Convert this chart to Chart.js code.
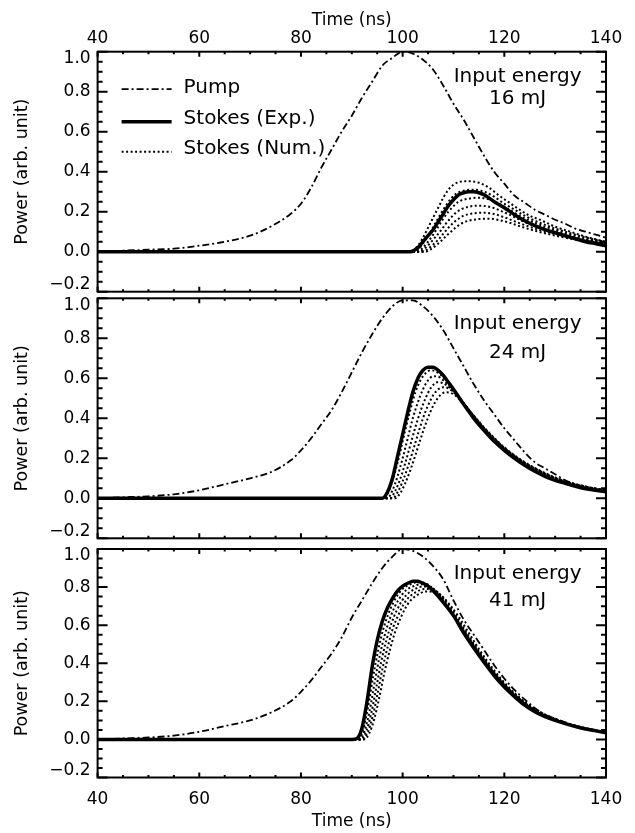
<!DOCTYPE html>
<html>
<head>
<meta charset="utf-8">
<title>Pump and Stokes pulses</title>
<script src="https://cdn.jsdelivr.net/npm/chart.js@4.4.1/dist/chart.umd.min.js"></script>
<style>
  html, body { margin: 0; padding: 0; background: #fff; }
  #wrap { position: relative; width: 635px; height: 833px; }
  #wrap canvas { position: absolute; left: 0; }
</style>
</head>
<body>
<div id="wrap">
  <canvas id="p16" width="635" height="296" style="top:0px"></canvas>
  <canvas id="p24" width="635" height="246" style="top:296px"></canvas>
  <canvas id="p41" width="635" height="291" style="top:542px"></canvas>
</div>
<script>
// axis ticks
const xTicks = [40, 60, 80, 100, 120, 140];
const yTicks = [-0.2, 0, 0.2, 0.4, 0.6, 0.8, 1.0];
const legendLabels = ['Pump', 'Stokes (Exp.)', 'Stokes (Num.)'];

// pump pulses, one time grid for all three
const pumpTime = [40, 45, 50, 55, 60, 65, 70, 74, 78, 80, 82, 84, 86, 88, 90, 92, 94, 96, 98, 100,
  102, 104, 106, 108, 110, 112, 114, 116, 118, 120, 122, 124, 126, 128, 130, 132, 134, 136, 138, 140];
const pump16 = [0.0, 0.005, 0.01, 0.015, 0.03, 0.05, 0.08, 0.125, 0.19, 0.24, 0.32, 0.42, 0.51, 0.60, 0.68, 0.77, 0.85, 0.93, 0.97, 1.0,
  0.99, 0.96, 0.91, 0.83, 0.74, 0.66, 0.57, 0.48, 0.40, 0.34, 0.28, 0.245, 0.21, 0.185, 0.16, 0.14, 0.115, 0.10, 0.085, 0.07];
const pump24 = [0.0, 0.005, 0.01, 0.02, 0.04, 0.07, 0.10, 0.13, 0.19, 0.24, 0.30, 0.37, 0.44, 0.53, 0.63, 0.73, 0.82, 0.90, 0.96, 0.99,
  0.99, 0.96, 0.91, 0.84, 0.75, 0.66, 0.57, 0.49, 0.42, 0.35, 0.29, 0.23, 0.18, 0.15, 0.12, 0.09, 0.07, 0.05, 0.04, 0.03];
const pump41 = [0.0, 0.005, 0.01, 0.02, 0.04, 0.07, 0.10, 0.14, 0.20, 0.25, 0.31, 0.38, 0.45, 0.535, 0.64, 0.73, 0.82, 0.90, 0.96, 1.0,
  0.99, 0.96, 0.91, 0.84, 0.73, 0.63, 0.55, 0.47, 0.39, 0.32, 0.26, 0.21, 0.165, 0.13, 0.11, 0.09, 0.07, 0.055, 0.045, 0.035];

// measured Stokes, [time, power]
const exp16 = [[40,0],[101.5,0],[103,0.02],[104,0.05],[105,0.08],[106,0.11],[107,0.15],[108,0.19],[109,0.23],[110,0.26],
  [111,0.285],[112,0.295],[113,0.30],[114,0.30],[115,0.295],[116,0.285],[118,0.25],[120,0.22],[122,0.185],[124,0.155],
  [126,0.13],[128,0.11],[130,0.095],[132,0.08],[134,0.065],[136,0.05],[138,0.04],[140,0.03]];
const exp24 = [[40,0],[96,0],[97,0.03],[98,0.1],[99,0.21],[100,0.32],[101,0.43],[102,0.53],[103,0.6],[104,0.64],[105,0.655],
  [106,0.655],[107,0.64],[108,0.615],[109,0.58],[110,0.545],[112,0.47],[114,0.4],[116,0.34],[118,0.285],[120,0.24],[122,0.2],
  [124,0.165],[126,0.135],[128,0.11],[130,0.09],[132,0.075],[134,0.06],[136,0.048],[138,0.04],[140,0.033]];
const exp41 = [[40,0],[90,0],[91,0.005],[92,0.06],[93,0.2],[94,0.38],[95,0.52],[96,0.62],[97,0.69],[98,0.74],[99,0.78],
  [100,0.805],[101,0.82],[102,0.83],[103,0.83],[104,0.82],[105,0.805],[106,0.78],[108,0.72],[110,0.65],[112,0.56],[114,0.48],
  [116,0.405],[118,0.335],[120,0.275],[122,0.225],[124,0.18],[126,0.145],[128,0.12],[130,0.1],[132,0.083],[134,0.068],
  [136,0.055],[138,0.045],[140,0.035]];

// simulated Stokes, 16 mJ
const num16a = [[40,0],[101.5,0],[103,0.03],[104,0.07],[105,0.12],[106,0.17],[107,0.22],[108,0.27],[109,0.31],[110,0.335],
  [111,0.348],[113,0.352],[115,0.345],[117,0.32],[119,0.28],[121,0.245],[123,0.21],[125,0.18],[127,0.16],[130,0.125],
  [133,0.1],[136,0.075],[140,0.05]];
const num16b = [[40,0],[102.2,0],[103.5,0.025],[104.5,0.06],[105.5,0.1],[106.5,0.145],[107.5,0.19],[108.5,0.23],[109.5,0.265],
  [110.5,0.29],[112,0.305],[114,0.31],[116,0.3],[118,0.275],[120,0.24],[122,0.21],[124,0.18],[126,0.155],[129,0.125],
  [132,0.1],[136,0.072],[140,0.048]];
const num16c = [[40,0],[102.8,0],[104,0.02],[105,0.05],[106,0.085],[107,0.125],[108,0.165],[109,0.2],[110,0.228],[111,0.25],
  [113,0.265],[115,0.27],[117,0.262],[119,0.24],[121,0.21],[123,0.18],[125,0.155],[128,0.125],[131,0.1],[135,0.072],[140,0.045]];
const num16d = [[40,0],[103.4,0],[104.5,0.02],[105.5,0.045],[106.5,0.075],[107.5,0.105],[108.5,0.14],[109.5,0.17],[110.5,0.195],
  [111.5,0.212],[113,0.225],[115,0.23],[117,0.225],[119,0.208],[121,0.185],[123,0.16],[125,0.138],[128,0.112],[131,0.09],
  [135,0.065],[140,0.042]];
const num16e = [[40,0],[104,0],[105,0.015],[106,0.035],[107,0.06],[108,0.09],[109,0.12],[110,0.145],[111,0.165],[112,0.18],
  [114,0.192],[116,0.195],[118,0.188],[120,0.172],[122,0.152],[124,0.133],[127,0.108],[130,0.088],[134,0.065],[140,0.04]];
const num16f = [[40,0],[104.5,0],[105.5,0.012],[106.5,0.03],[107.5,0.052],[108.5,0.077],[109.5,0.1],[110.5,0.122],[111.5,0.14],
  [113,0.155],[115,0.163],[117,0.165],[119,0.158],[121,0.145],[123,0.128],[125,0.112],[128,0.092],[131,0.075],[135,0.056],[140,0.038]];

// simulated Stokes, 24 mJ
const num24a = [[40,0],[96.5,0],[97.5,0.05],[98.5,0.13],[99.5,0.23],[100.5,0.34],[101.5,0.44],[102.5,0.53],[103.5,0.59],
  [104.5,0.625],[105.5,0.64],[106.5,0.635],[108,0.605],[110,0.545],[112,0.475],[114,0.405],[116,0.345],[118,0.29],[120,0.245],
  [123,0.19],[126,0.145],[130,0.1],[134,0.068],[140,0.038]];
const num24b = [[40,0],[97,0],[98,0.04],[99,0.11],[100,0.2],[101,0.3],[102,0.4],[103,0.48],[104,0.545],[105,0.59],[106,0.61],
  [107,0.608],[108,0.59],[110,0.54],[112,0.475],[114,0.41],[116,0.35],[118,0.295],[120,0.248],[123,0.19],[126,0.145],
  [130,0.1],[134,0.068],[140,0.038]];
const num24c = [[40,0],[97.5,0],[98.5,0.035],[99.5,0.095],[100.5,0.175],[101.5,0.265],[102.5,0.355],[103.5,0.435],[104.5,0.5],
  [105.5,0.55],[106.8,0.58],[108,0.575],[110,0.535],[112,0.475],[114,0.41],[116,0.35],[118,0.297],[120,0.25],[123,0.192],
  [126,0.147],[130,0.1],[134,0.068],[140,0.038]];
const num24d = [[40,0],[98,0],[99,0.03],[100,0.085],[101,0.155],[102,0.235],[103,0.32],[104,0.4],[105,0.465],[106,0.515],
  [107,0.545],[108,0.555],[109,0.55],[110,0.53],[112,0.475],[114,0.412],[116,0.353],[118,0.3],[120,0.253],[123,0.195],
  [126,0.15],[130,0.102],[134,0.07],[140,0.038]];
const num24e = [[40,0],[98.5,0],[99.5,0.025],[100.5,0.075],[101.5,0.14],[102.5,0.215],[103.5,0.295],[104.5,0.37],[105.5,0.435],
  [106.5,0.485],[107.5,0.518],[108.5,0.53],[110,0.52],[112,0.473],[114,0.413],[116,0.355],[118,0.302],[120,0.255],[123,0.197],
  [126,0.152],[130,0.104],[134,0.071],[140,0.039]];

// simulated Stokes, 41 mJ
const num41a = [[40,0],[91.2,0],[92.2,0.05],[93.2,0.17],[94.2,0.33],[95.2,0.47],[96.2,0.58],[97.2,0.66],[98.2,0.72],[99.2,0.765],
  [100.2,0.795],[101.5,0.815],[103,0.826],[104.5,0.82],[106,0.79],[108,0.725],[110,0.65],[112,0.57],[114,0.49],[116,0.415],
  [118,0.345],[120,0.285],[123,0.21],[126,0.152],[130,0.1],[134,0.068],[140,0.036]];
const num41b = [[40,0],[91.5,0],[92.5,0.045],[93.5,0.15],[94.5,0.3],[95.5,0.44],[96.5,0.55],[97.5,0.635],[98.5,0.7],[99.5,0.745],
  [100.5,0.78],[102,0.803],[103.5,0.815],[105,0.808],[106.5,0.78],[108,0.728],[110,0.653],[112,0.573],[114,0.493],[116,0.418],
  [118,0.348],[120,0.288],[123,0.212],[126,0.154],[130,0.102],[134,0.069],[140,0.036]];
const num41c = [[40,0],[91.8,0],[92.8,0.04],[93.8,0.135],[94.8,0.27],[95.8,0.41],[96.8,0.52],[97.8,0.61],[98.8,0.675],[99.8,0.725],
  [100.8,0.76],[102.2,0.787],[104,0.803],[105.5,0.798],[107,0.77],[108.5,0.72],[110,0.66],[112,0.578],[114,0.497],[116,0.421],
  [118,0.351],[120,0.29],[123,0.214],[126,0.156],[130,0.103],[134,0.07],[140,0.036]];
const num41d = [[40,0],[92.1,0],[93.1,0.035],[94.1,0.12],[95.1,0.245],[96.1,0.38],[97.1,0.49],[98.1,0.585],[99.1,0.65],[100.1,0.705],
  [101.1,0.743],[102.6,0.773],[104.3,0.79],[106,0.785],[107.5,0.758],[109,0.71],[110.5,0.652],[112,0.585],[114,0.502],[116,0.425],
  [118,0.354],[120,0.293],[123,0.216],[126,0.158],[130,0.104],[134,0.07],[140,0.036]];
const num41e = [[40,0],[92.4,0],[93.4,0.03],[94.4,0.105],[95.4,0.22],[96.4,0.35],[97.4,0.46],[98.4,0.555],[99.4,0.625],[100.4,0.683],
  [101.4,0.725],[102.8,0.757],[104.6,0.777],[106.3,0.772],[108,0.745],[109.5,0.7],[111,0.645],[113,0.56],[115,0.475],[117,0.398],
  [119,0.33],[121,0.27],[124,0.198],[127,0.145],[131,0.098],[135,0.066],[140,0.036]];

Chart.defaults.font.family = '"DejaVu Sans", sans-serif';
Chart.defaults.color = '#000';

const FONT = '"DejaVu Sans", sans-serif';

function pumpSet(vals) {
  return { label: 'Pump', data: pumpTime.map((t, i) => ({ x: t, y: vals[i] })),
    borderColor: '#000', borderWidth: 1.8, borderDash: [7, 3, 2, 3] };
}
function expSet(pts) {
  return { label: 'Stokes (Exp.)', data: pts.map(p => ({ x: p[0], y: p[1] })),
    borderColor: '#000', borderWidth: 3.5 };
}
function numSet(pts) {
  return { label: 'Stokes (Num.)', data: pts.map(p => ({ x: p[0], y: p[1] })),
    borderColor: '#000', borderWidth: 2, borderDash: [2, 2.5] };
}

function yLabel(v) {
  const s = (v < 0 ? '\u2212' : '') + Math.abs(v).toFixed(1);
  // end labels sit inside the frame in the original; a blank line pushes them in
  if (v === yTicks[yTicks.length - 1]) return ['', s];
  if (v === yTicks[0]) return [s, ''];
  return s;
}

// box, inward ticks, annotation and legend
const panelDecor = {
  id: 'panelDecor',
  afterDatasetsDraw(chart, args, opts) {
    const { ctx, chartArea: a, scales: { x, y } } = chart;
    ctx.save();
    ctx.strokeStyle = '#000';
    ctx.fillStyle = '#000';
    ctx.lineWidth = 2;
    ctx.setLineDash([]);
    ctx.beginPath();
    for (let t = x.min; t <= x.max + 0.01; t += 5) {
      const px = x.getPixelForValue(t);
      const len = (t % 20 === 0) ? 5 : 2.5;
      ctx.moveTo(px, a.top); ctx.lineTo(px, a.top + len);
      ctx.moveTo(px, a.bottom); ctx.lineTo(px, a.bottom - len);
    }
    for (let k = 0; k <= 24; k++) {
      const py = y.getPixelForValue(y.min + k * 0.05);
      const len = (k % 4 === 0) ? 10 : 5;
      ctx.moveTo(a.left, py); ctx.lineTo(a.left + len, py);
      ctx.moveTo(a.right, py); ctx.lineTo(a.right - len, py);
    }
    ctx.stroke();
    ctx.strokeRect(a.left, a.top, a.right - a.left, a.bottom - a.top);

    ctx.font = '20px ' + FONT;
    ctx.textAlign = 'center';
    ctx.textBaseline = 'alphabetic';
    opts.note.forEach((txt, i) => ctx.fillText(txt, a.left + 420, a.top + opts.noteY[i]));

    if (opts.legend) {
      const lineY = [37.5, 70, 100];
      const textY = [41.5, 72.5, 102.5];
      ctx.textAlign = 'left';
      legendLabels.forEach((lab, i) => {
        const ds = chart.data.datasets.find(d => d.label === lab);
        ctx.beginPath();
        ctx.lineWidth = ds.borderWidth;
        ctx.setLineDash(ds.borderDash || []);
        ctx.moveTo(a.left + 24, a.top + lineY[i]);
        ctx.lineTo(a.left + 74, a.top + lineY[i]);
        ctx.stroke();
        ctx.setLineDash([]);
        ctx.fillText(lab, a.left + 86, a.top + textY[i]);
      });
    }
    ctx.restore();
  }
};

function makePanel(id, datasets, cfg) {
  const showX = cfg.xPos !== null;
  return new Chart(document.getElementById(id), {
    type: 'line',
    data: { datasets: datasets },
    options: {
      responsive: false,
      animation: false,
      events: [],
      layout: { padding: cfg.padding },
      elements: { point: { radius: 0 }, line: { cubicInterpolationMode: 'monotone', fill: false } },
      plugins: {
        legend: { display: false },
        tooltip: { enabled: false },
        panelDecor: { note: cfg.note, noteY: cfg.noteY, legend: cfg.legend }
      },
      scales: {
        x: {
          type: 'linear',
          display: showX,
          position: showX ? cfg.xPos : 'bottom',
          min: 40, max: 140,
          afterBuildTicks: s => { s.ticks = xTicks.map(v => ({ value: v })); },
          afterFit: s => {
            if (showX) s.height = cfg.xHeight;
            s.paddingLeft = 0; s.paddingRight = 0;
          },
          grid: { display: false, drawTicks: false },
          border: { display: false },
          ticks: { padding: cfg.xTickPad, maxRotation: 0, autoSkip: false,
            font: { size: 17, lineHeight: 1.2 }, callback: v => String(v) },
          title: { display: true, text: 'Time (ns)', font: { size: 17, lineHeight: 1.2 }, padding: cfg.xTitlePad }
        },
        y: {
          type: 'linear',
          position: 'left',
          min: -0.2, max: 1.0,
          afterBuildTicks: s => { s.ticks = yTicks.map(v => ({ value: v })); },
          afterFit: s => { s.width = 97.6; s.paddingTop = 0; s.paddingBottom = 0; },
          grid: { display: false, drawTicks: false },
          border: { display: false },
          ticks: { padding: 7, autoSkip: false, font: { size: 17, lineHeight: 0.8 }, callback: yLabel },
          title: { display: true, text: 'Power (arb. unit)', font: { size: 17.5, lineHeight: 1.2 }, padding: { top: 12 } }
        }
      }
    },
    plugins: [panelDecor]
  });
}

makePanel('p16',
  [expSet(exp16), pumpSet(pump16), numSet(num16a), numSet(num16b), numSet(num16c),
   numSet(num16d), numSet(num16e), numSet(num16f)],
  { padding: { top: 0, bottom: 4.3, left: 0, right: 29 }, xPos: 'top', xHeight: 51.7,
    xTickPad: 3, xTitlePad: { top: 10 }, note: ['Input energy', '16 mJ'], noteY: [30, 52], legend: true });

makePanel('p24',
  [expSet(exp24), pumpSet(pump24), numSet(num24a), numSet(num24b), numSet(num24c),
   numSet(num24d), numSet(num24e)],
  { padding: { top: 2.3, bottom: 3.7, left: 0, right: 29 }, xPos: null, xHeight: 0,
    xTickPad: 3, xTitlePad: 0, note: ['Input energy', '24 mJ'], noteY: [31, 60], legend: false });

makePanel('p41',
  [expSet(exp41), pumpSet(pump41), numSet(num41a), numSet(num41b), numSet(num41c),
   numSet(num41d), numSet(num41e)],
  { padding: { top: 7, bottom: 0, left: 0, right: 29 }, xPos: 'bottom', xHeight: 55.5,
    xTickPad: 12, xTitlePad: { bottom: 1 }, note: ['Input energy', '41 mJ'], noteY: [30, 57], legend: false });
</script>
</body>
</html>
